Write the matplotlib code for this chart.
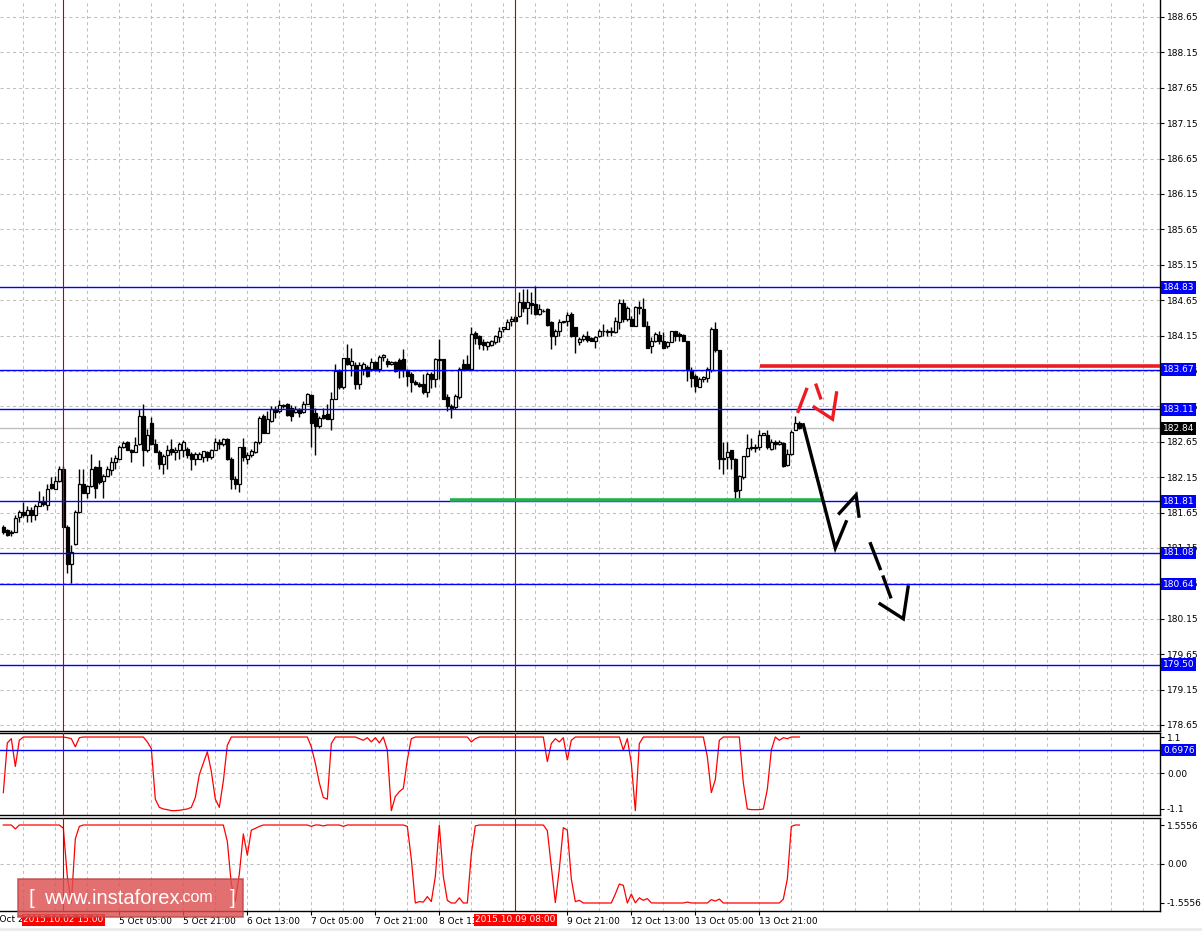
import numpy as np
import matplotlib.pyplot as plt
from matplotlib.patches import Rectangle
from matplotlib.transforms import blended_transform_factory

# ---------------- data (hourly candles, bar index 0 = 2 Oct 00:00) ----------------
opens = [
    181.45, 181.40, 181.37, 181.38, 181.59, 181.66, 181.61, 181.68, 181.61, 181.75,
    181.80, 181.76, 182.06, 181.99, 182.09, 182.27, 181.45, 180.92, 181.20, 181.66,
    182.05, 181.93, 182.03, 182.29, 182.29, 182.09, 182.17, 182.25, 182.37, 182.41,
    182.58, 182.65, 182.54, 182.51, 182.62, 183.02, 182.53, 182.91, 182.62, 182.51,
    182.33, 182.46, 182.55, 182.51, 182.54, 182.54, 182.55, 182.48, 182.40, 182.41,
    182.43, 182.51, 182.44, 182.54, 182.65, 182.62, 182.69, 182.40, 182.13, 182.05,
    182.57, 182.40, 182.46, 182.50, 182.64, 183.01, 182.78, 182.95, 183.11, 183.09,
    183.15, 183.19, 183.13, 183.07, 183.11, 183.07, 183.19, 183.31, 183.05, 182.87,
    183.03, 183.04, 182.97, 183.26, 183.65, 183.42, 183.83, 183.73, 183.73, 183.46,
    183.68, 183.71, 183.68, 183.77, 183.68, 183.85, 183.79, 183.75, 183.77, 183.80,
    183.82, 183.66, 183.61, 183.49, 183.47, 183.47, 183.35, 183.61, 183.54, 183.82,
    183.82, 183.28, 183.15, 183.14, 183.28, 183.75, 183.75, 183.68, 184.19, 184.15,
    184.06, 184.00, 184.02, 184.06, 184.13, 184.24, 184.25, 184.35, 184.41, 184.42,
    184.63, 184.54, 184.61, 184.60, 184.46, 184.50, 184.53, 184.34, 184.15, 184.22,
    184.34, 184.35, 184.46, 184.27, 184.06, 184.10, 184.15, 184.11, 184.08, 184.14,
    184.22, 184.20, 184.20, 184.20, 184.34, 184.61, 184.39, 184.39, 184.29, 184.54,
    184.53, 184.28, 184.00, 184.08, 184.16, 184.08, 184.00, 184.06, 184.22, 184.17,
    184.16, 184.08, 183.67, 183.58, 183.43, 183.53, 183.55, 183.66, 184.25, 183.94,
    182.42, 182.43, 182.53, 182.41, 181.97, 182.15, 182.45, 182.57, 182.57, 182.57,
    182.75, 182.75, 182.55, 182.65, 182.62, 182.63, 182.32, 182.48, 182.81, 182.91,
]
highs = [
    181.48, 181.42, 181.40, 181.61, 181.69, 181.80, 181.75, 181.73, 181.77, 181.96,
    181.89, 182.06, 182.15, 182.17, 182.31, 182.31, 181.48, 181.19, 181.68, 182.27,
    182.27, 182.04, 182.48, 182.31, 182.39, 182.20, 182.31, 182.43, 182.46, 182.60,
    182.66, 182.66, 182.55, 182.72, 183.11, 183.19, 182.83, 183.00, 182.69, 182.54,
    182.48, 182.60, 182.69, 182.57, 182.65, 182.67, 182.58, 182.51, 182.50, 182.51,
    182.52, 182.52, 182.55, 182.71, 182.69, 182.71, 182.70, 182.43, 182.17, 182.58,
    182.71, 182.50, 182.55, 182.66, 183.01, 183.04, 183.09, 183.15, 183.16, 183.24,
    183.18, 183.20, 183.17, 183.15, 183.13, 183.23, 183.34, 183.32, 183.13, 183.01,
    183.13, 183.18, 183.35, 183.75, 183.68, 183.83, 184.03, 183.98, 183.77, 183.77,
    183.77, 183.73, 183.83, 183.79, 183.87, 183.89, 183.83, 183.79, 183.79, 183.83,
    183.96, 183.68, 183.63, 183.52, 183.49, 183.61, 183.63, 183.63, 183.83, 184.10,
    183.82, 183.33, 183.19, 183.33, 183.70, 183.82, 183.88, 184.27, 184.22, 184.16,
    184.10, 184.08, 184.09, 184.16, 184.27, 184.27, 184.38, 184.43, 184.44, 184.76,
    184.81, 184.81, 184.76, 184.85, 184.60, 184.52, 184.54, 184.35, 184.24, 184.38,
    184.36, 184.48, 184.48, 184.27, 184.13, 184.17, 184.22, 184.13, 184.15, 184.24,
    184.31, 184.24, 184.27, 184.41, 184.67, 184.67, 184.57, 184.42, 184.57, 184.64,
    184.68, 184.36, 184.13, 184.20, 184.22, 184.20, 184.08, 184.22, 184.22, 184.20,
    184.17, 184.08, 183.70, 183.61, 183.56, 183.58, 183.70, 184.27, 184.34, 183.95,
    182.64, 182.65, 182.54, 182.42, 182.18, 182.45, 182.76, 182.71, 182.62, 182.81,
    182.77, 182.81, 182.69, 182.67, 182.67, 182.64, 182.55, 182.81, 183.01, 182.95,
]
lows = [
    181.35, 181.32, 181.32, 181.37, 181.51, 181.59, 181.52, 181.52, 181.54, 181.75,
    181.75, 181.68, 181.99, 181.99, 182.08, 181.45, 180.79, 180.65, 181.19, 181.65,
    181.92, 181.85, 182.01, 181.85, 182.06, 181.85, 182.17, 182.18, 182.27, 182.40,
    182.56, 182.53, 182.36, 182.50, 182.61, 182.31, 182.51, 182.61, 182.50, 182.27,
    182.20, 182.27, 182.46, 182.39, 182.40, 182.43, 182.42, 182.25, 182.32, 182.40,
    182.36, 182.38, 182.40, 182.53, 182.55, 182.59, 182.39, 181.99, 181.98, 181.94,
    182.38, 182.33, 182.43, 182.49, 182.62, 182.77, 182.77, 182.93, 182.98, 183.06,
    183.13, 183.01, 182.95, 183.05, 183.00, 183.06, 183.18, 182.57, 182.46, 182.85,
    182.97, 182.97, 182.82, 183.25, 183.40, 183.40, 183.73, 183.58, 183.39, 183.39,
    183.60, 183.56, 183.65, 183.65, 183.63, 183.79, 183.71, 183.73, 183.63, 183.55,
    183.56, 183.44, 183.36, 183.45, 183.43, 183.33, 183.28, 183.41, 183.42, 183.54,
    183.25, 183.09, 182.99, 183.12, 183.26, 183.66, 183.67, 183.67, 184.03, 183.96,
    183.95, 183.94, 184.00, 184.03, 184.06, 184.20, 184.24, 184.29, 184.34, 184.41,
    184.48, 184.31, 184.46, 184.44, 184.44, 184.49, 184.29, 183.96, 184.01, 184.15,
    184.33, 184.29, 184.13, 183.90, 184.01, 184.08, 184.06, 184.08, 183.98, 184.13,
    184.15, 184.15, 184.15, 184.19, 184.25, 184.34, 184.36, 184.29, 184.29, 184.46,
    184.28, 183.97, 183.91, 184.06, 184.03, 183.97, 183.98, 184.06, 184.08, 184.08,
    184.08, 183.51, 183.43, 183.36, 183.43, 183.49, 183.49, 183.64, 183.92, 182.27,
    182.20, 182.27, 182.27, 181.83, 181.85, 182.13, 182.44, 182.54, 182.50, 182.54,
    182.74, 182.55, 182.54, 182.55, 182.60, 182.30, 182.31, 182.46, 182.81, 182.83,
]
closes = [
    181.38, 181.34, 181.36, 181.57, 181.66, 181.61, 181.68, 181.61, 181.75, 181.80,
    181.77, 181.99, 182.00, 182.09, 182.27, 181.45, 180.93, 181.09, 181.66, 182.05,
    181.92, 182.03, 182.27, 182.00, 182.08, 182.17, 182.26, 182.37, 182.42, 182.58,
    182.63, 182.53, 182.51, 182.61, 183.02, 182.53, 182.75, 182.62, 182.51, 182.33,
    182.45, 182.54, 182.51, 182.54, 182.62, 182.65, 182.46, 182.40, 182.48, 182.48,
    182.52, 182.43, 182.54, 182.65, 182.62, 182.69, 182.40, 182.13, 182.05, 182.57,
    182.43, 182.47, 182.52, 182.65, 182.99, 182.78, 182.97, 183.11, 183.07, 183.17,
    183.17, 183.03, 183.02, 183.12, 183.06, 183.19, 183.32, 182.92, 182.87, 182.99,
    182.98, 182.97, 183.26, 183.65, 183.42, 183.83, 183.75, 183.79, 183.46, 183.73,
    183.75, 183.58, 183.77, 183.68, 183.85, 183.87, 183.75, 183.77, 183.65, 183.68,
    183.67, 183.58, 183.50, 183.46, 183.44, 183.36, 183.61, 183.54, 183.82, 183.80,
    183.26, 183.15, 183.12, 183.29, 183.68, 183.68, 183.68, 184.17, 184.11, 184.03,
    184.01, 184.06, 184.08, 184.14, 184.22, 184.27, 184.34, 184.39, 184.36, 184.63,
    184.54, 184.62, 184.58, 184.46, 184.52, 184.50, 184.30, 184.15, 184.22, 184.34,
    184.35, 184.44, 184.15, 184.15, 184.10, 184.14, 184.09, 184.08, 184.13, 184.22,
    184.21, 184.21, 184.21, 184.35, 184.61, 184.39, 184.54, 184.29, 184.55, 184.56,
    184.29, 183.98, 184.08, 184.17, 184.08, 183.98, 184.06, 184.21, 184.15, 184.15,
    184.08, 183.68, 183.55, 183.44, 183.54, 183.56, 183.68, 184.25, 183.94, 182.41,
    182.40, 182.50, 182.41, 181.96, 182.16, 182.45, 182.56, 182.56, 182.56, 182.75,
    182.77, 182.57, 182.65, 182.62, 182.64, 182.31, 182.48, 182.79, 182.92, 182.84,
]

# upper oscillator (range about -1.1 .. 1.1)
osc_upper = [
    -0.60, 0.92, 1.05, 0.20, 1.00, 1.10, 1.10, 1.10, 1.10, 1.10,
    1.10, 1.10, 1.10, 1.10, 1.10, 1.10, 1.08, 1.05, 0.80, 1.08,
    1.10, 1.10, 1.10, 1.10, 1.10, 1.10, 1.10, 1.10, 1.10, 1.10,
    1.10, 1.10, 1.10, 1.10, 1.10, 1.10, 0.95, 0.75, -0.80, -1.05,
    -1.10, -1.12, -1.15, -1.15, -1.14, -1.12, -1.10, -1.05, -0.75, -0.05,
    0.30, 0.65, 0.05, -0.80, -1.05, -0.25, 0.85, 1.10, 1.10, 1.10,
    1.10, 1.10, 1.10, 1.10, 1.10, 1.10, 1.10, 1.10, 1.10, 1.10,
    1.10, 1.10, 1.10, 1.10, 1.10, 1.10, 1.10, 0.80, 0.30, -0.30,
    -0.75, -0.80, 0.90, 1.10, 1.10, 1.10, 1.10, 1.10, 1.10, 1.05,
    1.00, 1.08, 0.95, 1.08, 0.92, 1.10, 0.70, -1.15, -0.72, -0.57,
    -0.47, 0.40, 1.05, 1.10, 1.10, 1.10, 1.10, 1.10, 1.10, 1.10,
    1.10, 1.10, 1.10, 1.10, 1.10, 1.10, 1.10, 0.95, 1.05, 1.10,
    1.10, 1.10, 1.10, 1.10, 1.10, 1.10, 1.10, 1.10, 1.10, 1.10,
    1.10, 1.10, 1.10, 1.10, 1.10, 1.10, 0.35, 0.90, 1.05, 0.95,
    1.08, 0.40, 1.00, 1.10, 1.10, 1.10, 1.10, 1.10, 1.10, 1.10,
    1.10, 1.10, 1.10, 1.10, 1.10, 0.70, 1.05, 0.30, -1.15, 0.90,
    1.10, 1.10, 1.10, 1.10, 1.10, 1.10, 1.10, 1.10, 1.10, 1.10,
    1.10, 1.10, 1.10, 1.10, 1.10, 1.10, 0.50, -0.60, -0.20, 1.00,
    1.10, 1.10, 1.10, 1.10, 1.10, -0.30, -1.10, -1.12, -1.12, -1.12,
    -1.10, -0.50, 0.70, 1.10, 1.00, 1.08, 1.05, 1.10, 1.10, 1.10,
]
# lower oscillator (range -1.5556 .. 1.5556)
osc_lower = [
    1.5556, 1.5556, 1.5556, 1.40, 1.5556, 1.5556, 1.5556, 1.5556, 1.5556, 1.5556,
    1.5556, 1.5556, 1.5556, 1.5556, 1.5556, 1.43, -0.50, -1.5556, 1.00, 1.50,
    1.5556, 1.5556, 1.5556, 1.5556, 1.5556, 1.5556, 1.5556, 1.5556, 1.5556, 1.5556,
    1.5556, 1.5556, 1.5556, 1.5556, 1.5556, 1.5556, 1.5556, 1.5556, 1.5556, 1.5556,
    1.5556, 1.5556, 1.5556, 1.5556, 1.5556, 1.5556, 1.5556, 1.5556, 1.5556, 1.5556,
    1.5556, 1.5556, 1.5556, 1.5556, 1.5556, 1.5556, 0.90, -0.80, -1.50, -0.40,
    1.20, 0.35, 1.35, 1.42, 1.50, 1.5556, 1.5556, 1.5556, 1.5556, 1.5556,
    1.5556, 1.5556, 1.5556, 1.5556, 1.5556, 1.5556, 1.5556, 1.50, 1.5556, 1.5556,
    1.52, 1.5556, 1.5556, 1.5556, 1.5556, 1.50, 1.5556, 1.5556, 1.5556, 1.5556,
    1.5556, 1.5556, 1.5556, 1.5556, 1.5556, 1.5556, 1.5556, 1.5556, 1.5556, 1.5556,
    1.5556, 1.50, 0.20, -1.5556, -1.50, -1.52, -1.30, -1.50, -0.50, 1.55,
    -0.50, -1.45, -1.5556, -1.5556, -1.35, -1.5556, -1.5556, 0.40, 1.52, 1.5556,
    1.5556, 1.5556, 1.5556, 1.5556, 1.5556, 1.5556, 1.5556, 1.5556, 1.5556, 1.5556,
    1.5556, 1.5556, 1.5556, 1.5556, 1.5556, 1.5556, 1.33, -0.10, -1.54, -0.20,
    1.45, 1.35, -0.60, -1.50, -1.45, -1.5556, -1.5556, -1.5556, -1.5556, -1.5556,
    -1.5556, -1.5556, -1.5556, -1.20, -0.80, -0.85, -1.5556, -1.20, -1.55, -1.35,
    -1.45, -1.38, -1.55, -1.5556, -1.5556, -1.5556, -1.5556, -1.5556, -1.5556, -1.5556,
    -1.5556, -1.52, -1.5556, -1.5556, -1.5556, -1.5556, -1.5556, -1.42, -1.48, -1.40,
    -1.5556, -1.5556, -1.5556, -1.5556, -1.5556, -1.5556, -1.5556, -1.5556, -1.5556, -1.5556,
    -1.5556, -1.5556, -1.5556, -1.5556, -1.5556, -1.40, -0.60, 1.50, 1.5556, 1.5556,
]

time_ticks = [29, 45, 61, 77, 93, 109, 141, 157, 173, 189]
time_labels = ["5 Oct 05:00", "5 Oct 21:00", "6 Oct 13:00", "7 Oct 05:00",
               "7 Oct 21:00", "8 Oct 13:00", "9 Oct 21:00", "12 Oct 13:00",
               "13 Oct 05:00", "13 Oct 21:00"]
marker_bars = [15, 128]
marker_labels = ["2015.10.02 15:00", "2015.10.09 08:00"]

price_ticks = [178.65, 179.15, 179.65, 180.15, 180.65, 181.15, 181.65, 182.15,
               182.65, 183.15, 183.65, 184.15, 184.65, 185.15, 185.65, 186.15,
               186.65, 187.15, 187.65, 188.15, 188.65]
level_prices = [184.83, 183.67, 183.11, 181.81, 181.08, 180.64, 179.50]
last_price = 182.84
osc_level = 0.6976

resist_price, resist_start = 183.72, 189.2
support_price, support_from, support_to = 181.83, 111.7, 204.9

# hand drawn forecast strokes (bar index, price)
black_solid = [[(200.0, 182.89), (208.0, 181.15), (210.7, 181.52)],
               [(209.0, 181.64), (213.2, 181.90), (213.9, 181.60)],
               [(216.8, 181.21), (219.2, 180.86)],
               [(220.0, 180.74), (221.8, 180.46)],
               [(219.2, 180.36), (225.0, 180.15), (226.2, 180.60)]]
red_strokes = [[(198.7, 183.08), (200.8, 183.39)],
               [(203.2, 183.45), (204.3, 183.27)],
               [(202.7, 183.14), (207.3, 182.97), (208.3, 183.34)]]

# ---------------- figure ----------------
plt.rcParams['font.family'] = ['DejaVu Sans']
W, H = 1202, 931
fig = plt.figure(figsize=(W / 100, H / 100), dpi=100)
fig.patch.set_facecolor('white')


def px_axes(x0, y0, x1, y1):
    return fig.add_axes([x0 / W, 1 - y1 / H, (x1 - x0) / W, (y1 - y0) / H])


ax = px_axes(0, 0, 1160, 731)
ax1 = px_axes(0, 733, 1160, 815)
ax2 = px_axes(0, 818, 1160, 911)

XMIN, XMAX = -0.83, 289.17
GRID = dict(color='#c0c0c0', lw=0.75, ls=(0, (3, 3)), zorder=0)
FS = 6.5
grid_x = np.arange(5, 290, 8)

for a in (ax, ax1, ax2):
    a.set_xlim(XMIN, XMAX)
    for g in grid_x:
        a.axvline(g, **GRID)
    a.spines['left'].set_visible(False)
    for s in a.spines.values():
        s.set_color('black')
        s.set_linewidth(1)
    a.yaxis.tick_right()
    a.tick_params(axis='y', direction='out', length=3, width=0.8,
                  labelsize=FS, pad=2, colors='black')
    for b in marker_bars:
        a.axvline(b, color='#c00000', lw=0.8, zorder=6)

ax.spines['top'].set_visible(False)
ax.set_xticks([])
ax1.set_xticks([])

# ---- main price panel ----
ax.set_ylim(178.565, 188.89)
ax.set_yticks(price_ticks, [f"{p:.2f}" for p in price_ticks])
for p in price_ticks:
    ax.axhline(p, **GRID)

x = np.arange(len(opens))
o = np.array(opens); c = np.array(closes)
ax.vlines(x, lows, highs, color='black', lw=1.0, zorder=3)
up = c >= o
ax.bar(x[up], np.maximum(c[up] - o[up], 0.004), bottom=o[up], width=0.75,
       facecolor='white', edgecolor='black', linewidth=0.9, zorder=4)
ax.bar(x[~up], o[~up] - c[~up], bottom=c[~up], width=0.75,
       facecolor='black', edgecolor='black', linewidth=0.9, zorder=4)

ax.axhline(last_price, color='#c0c0c0', lw=1, zorder=2)
for lv in level_prices:
    ax.axhline(lv, color='#0000ff', lw=1, zorder=5)

ax.plot([resist_start, XMAX], [resist_price] * 2, color='#ed1c24', lw=2.6,
        solid_capstyle='butt', zorder=6)
ax.plot([support_from, support_to], [support_price] * 2, color='#22b14c',
        lw=2.6, solid_capstyle='butt', zorder=6)
for stroke in black_solid:
    xs, ys = zip(*stroke)
    ax.plot(xs, ys, color='black', lw=2.4, zorder=7, solid_joinstyle='miter')
for stroke in red_strokes:
    xs, ys = zip(*stroke)
    ax.plot(xs, ys, color='#ed1c24', lw=2.4, zorder=7, solid_joinstyle='miter')

tr = blended_transform_factory(ax.transAxes, ax.transData)
for lv in level_prices:
    ax.text(1 + 3 / 1160, lv, f"{lv:.2f}", transform=tr, ha='left', va='center',
            fontsize=FS, color='white', clip_on=False, zorder=10,
            bbox=dict(boxstyle='square,pad=0.2', fc='#0000ff', ec='none'))
ax.text(1 + 3 / 1160, last_price, f"{last_price:.2f}", transform=tr, ha='left',
        va='center', fontsize=FS, color='white', clip_on=False, zorder=10,
        bbox=dict(boxstyle='square,pad=0.2', fc='black', ec='none'))

# ---- oscillator 1 ----
ax1.set_ylim(-1.284, 1.223)
ax1.set_yticks([1.1, 0.0, -1.1], ["1.1", "0.00", "-1.1"])
ax1.axhline(0, **GRID)
ax1.plot(x, osc_upper, color='#ff0000', lw=0.9, zorder=4)
ax1.axhline(osc_level, color='#0000ff', lw=1, zorder=5)
tr1 = blended_transform_factory(ax1.transAxes, ax1.transData)
ax1.text(1 + 3 / 1160, osc_level, f"{osc_level:.4f}", transform=tr1, ha='left',
         va='center', fontsize=FS, color='white', clip_on=False, zorder=10,
         bbox=dict(boxstyle='square,pad=0.2', fc='#0000ff', ec='none'))

# ---- oscillator 2 ----
ax2.set_ylim(-1.875, 1.835)
ax2.set_yticks([1.5556, 0.0, -1.5556], ["1.5556", "0.00", "-1.5556"])
ax2.axhline(0, **GRID)
ax2.plot(x, osc_lower, color='#ff0000', lw=0.9, zorder=4)
ax2.set_xticks(time_ticks, time_labels)
ax2.tick_params(axis='x', direction='out', length=3, width=0.8,
                labelsize=FS, pad=1)
for lbl in ax2.get_xticklabels():
    lbl.set_ha('left')

# first (cut off) date label and highlighted marker dates
fig.text(-9 / W, 1 - 920 / H, "2 Oct 2015", fontsize=FS, ha='left', va='center')
for b, lbl in zip(marker_bars, marker_labels):
    fig.text((3.33 + 4 * b) / W, 1 - 920 / H, lbl, fontsize=FS, color='white',
             ha='center', va='center', zorder=10,
             bbox=dict(boxstyle='square,pad=0.12', fc='#ff0000', ec='none'))

# bottom strip
fig.add_artist(Rectangle((0, 0), 1, 3 / H, transform=fig.transFigure,
                         fc='#ececec', ec='none', zorder=0))

# watermark
fig.add_artist(Rectangle((18 / W, 1 - 917 / H), 225 / W, 38 / H,
                         transform=fig.transFigure, fc='#dc5050', ec='#c04848',
                         lw=1.2, alpha=0.82, zorder=20))
wm_y = 1 - 899 / H
fig.text(29 / W, wm_y, "[", fontsize=15, color='white', ha='left', va='center',
         family='Liberation Sans', zorder=21)
fig.text(44 / W, wm_y, "www.instaforex", fontsize=14.5, color='white',
         ha='left', va='center', family='Liberation Sans', zorder=21)
fig.text(179 / W, wm_y + 1 / H, ".com", fontsize=11.5, color='white',
         ha='left', va='center', family='Liberation Sans', zorder=21)
fig.text(230 / W, wm_y, "]", fontsize=15, color='white', ha='left', va='center',
         family='Liberation Sans', zorder=21)

fig.savefig('out.png', dpi=100, facecolor='white')
